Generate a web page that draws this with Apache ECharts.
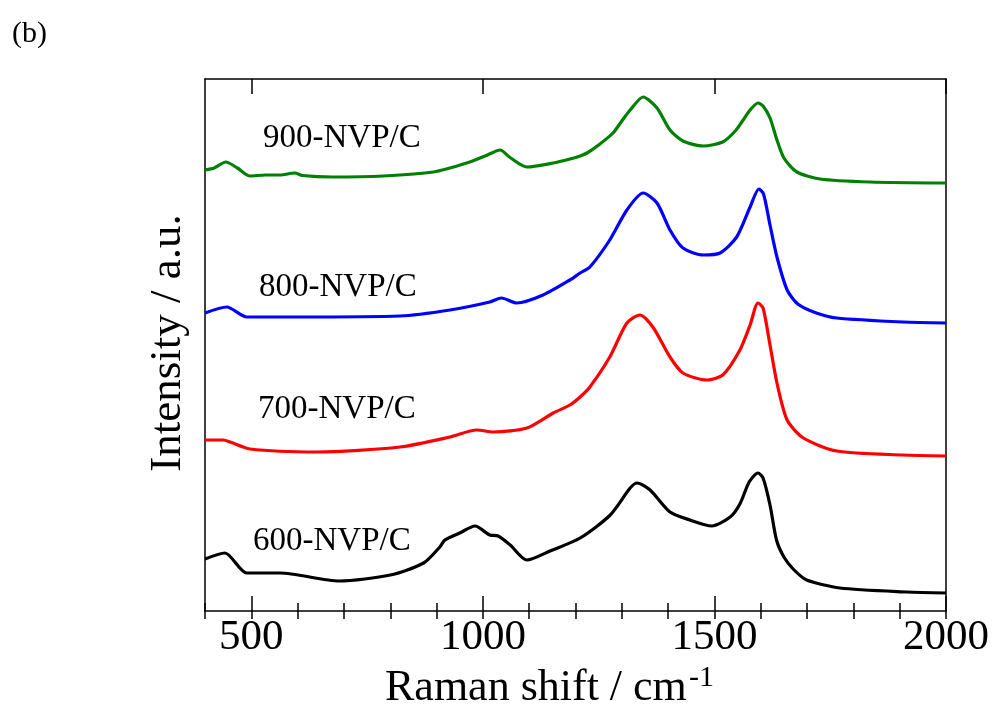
<!DOCTYPE html>
<html>
<head>
<meta charset="utf-8">
<script src="https://cdn.jsdelivr.net/npm/echarts@6/dist/echarts.min.js"></script>
<style>
html,body{margin:0;padding:0;background:#fff;}
#chart{width:997px;height:709px;}
</style>
</head>
<body>
<div id="chart"></div>
<script>
// Raman shift (cm^-1) / intensity (a.u.) pairs
var s900 = [[400,441],[420,443],[445,449],[470,443],[497,435],[530,436],[562,436],[594,438],[610,435.5],[676,434],[785,435],[893,439],[965,448],[1010,456],[1037,461],[1060,453],[1095,444],[1152,448],[1188,452],[1210,455],[1225,458],[1250,466],[1281,478],[1300,490],[1318,501],[1346,514],[1376,503],[1404,481],[1432,470],[1476,465],[1518,469],[1545,480],[1562,491],[1577,501],[1594,508],[1605,505],[1620,493],[1635,471],[1650,453],[1678,439],[1728,432],[1836,429],[2000,428]];
var s800 = [[400,298],[447,304],[490,294],[600,294],[821,295],[929,301],[1015,309],[1040,313],[1073,308],[1130,316],[1188,331],[1210,338],[1231,344],[1274,371],[1311,401],[1346,418],[1376,408],[1404,381],[1432,363],[1476,356],[1512,358],[1548,374],[1577,404],[1596,422],[1606,417],[1620,386],[1635,354],[1657,321],[1680,307],[1720,298],[1764,293],[1907,289],[2000,288]];
var s700 = [[400,171],[440,171],[454,169],[497,162],[641,159],[821,164],[929,174],[987,181],[1023,179],[1095,183],[1152,198],[1188,206],[1210,214],[1231,224],[1274,254],[1311,288],[1339,296],[1367,284],[1404,254],[1432,238],[1484,231],[1518,236],[1555,261],[1577,286],[1594,308],[1605,303],[1620,266],[1635,228],[1657,191],[1692,173],[1764,160],[1907,156],[2000,155]];
var s600 = [[400,52],[443,58],[490,38],[562,38],[690,30],[800,36],[872,48],[907,64],[918,71],[950,78],[983,85],[1015,76],[1033,75],[1059,66],[1095,51],[1145,60],[1210,73],[1275,96],[1318,123],[1333,128],[1361,121],[1404,99],[1447,91],[1494,85],[1534,94],[1555,107],[1575,129],[1594,138],[1605,133],[1620,106],[1634,71],[1650,54],[1670,42],[1699,31],[1771,23],[1915,19],[2000,18]];
var seriesNames = ['900-NVP/C','800-NVP/C','700-NVP/C','600-NVP/C'];
var seriesColors = ['#008000','#0000ff','#ff0000','#000000'];
var majorTicks = [500,1000,1500,2000];
var tickLabels = [500,1000,1500,2000];
var xMin = 400, xMax = 2000, yMin = 0, yMax = 532;

var FONT = '"Liberation Serif","Times New Roman",serif';
var chart = echarts.init(document.getElementById('chart'), null, {renderer:'canvas'});
var lineCommon = {show:true, onZero:false, lineStyle:{color:'#000', width:1.5}};
function xAx(pos, major) {
  return {
    type:'value', min:xMin, max:xMax, position:pos,
    interval: major ? undefined : 100,
    axisLine: major ? lineCommon : {show:false},
    axisTick: major ? {show:true, inside:true, length:15, customValues:majorTicks, lineStyle:{color:'#000', width:1.5}}
                    : {show:true, inside:true, length:8, lineStyle:{color:'#000', width:1.5}},
    axisLabel: (major && pos==='bottom') ? {show:true, customValues:tickLabels, color:'#000', fontSize:43, fontFamily:FONT, margin:5,
                                            formatter:function(v){return String(v);}}
                                         : {show:false},
    splitLine:{show:false}
  };
}
var data = [s900, s800, s700, s600];
var option = {
  animation:false,
  backgroundColor:'#fff',
  grid:{left:205, right:51, top:79, bottom:98, containLabel:false},
  xAxis:[xAx('bottom',true), xAx('bottom',false), xAx('top',true), xAx('top',false)],
  yAxis:[
    {type:'value', min:yMin, max:yMax, position:'left', axisLine:lineCommon, axisTick:{show:false}, axisLabel:{show:false}, splitLine:{show:false}},
    {type:'value', min:yMin, max:yMax, position:'right', axisLine:lineCommon, axisTick:{show:false}, axisLabel:{show:false}, splitLine:{show:false}}
  ],
  series: data.map(function(d,i){
    return {name:seriesNames[i], type:'line', data:d, xAxisIndex:0, yAxisIndex:0,
      showSymbol:false, smooth:0.25, lineStyle:{color:seriesColors[i], width:3.2}, itemStyle:{color:seriesColors[i]}};
  }),
  graphic:[
    {type:'text', x:12, y:34, style:{text:'(b)', font:'30px '+FONT, fill:'#000', verticalAlign:'middle'}},
    {type:'text', x:263, y:138, style:{text:seriesNames[0], font:'33px '+FONT, fill:'#000', verticalAlign:'middle'}},
    {type:'text', x:259, y:287, style:{text:seriesNames[1], font:'33px '+FONT, fill:'#000', verticalAlign:'middle'}},
    {type:'text', x:258, y:409, style:{text:seriesNames[2], font:'33px '+FONT, fill:'#000', verticalAlign:'middle'}},
    {type:'text', x:253, y:541, style:{text:seriesNames[3], font:'33px '+FONT, fill:'#000', verticalAlign:'middle'}},
    {type:'text', x:385, y:688, style:{text:'Raman shift / cm', font:'44px '+FONT, fill:'#000', verticalAlign:'middle'}},
    {type:'text', x:689, y:678, style:{text:'-1', font:'30px '+FONT, fill:'#000', verticalAlign:'middle'}},
    {type:'text', x:168, y:343, rotation:Math.PI/2, style:{text:'Intensity / a.u.', font:'45px '+FONT, fill:'#000', align:'center', verticalAlign:'middle'}}
  ]
};
chart.setOption(option);
</script>
</body>
</html>
